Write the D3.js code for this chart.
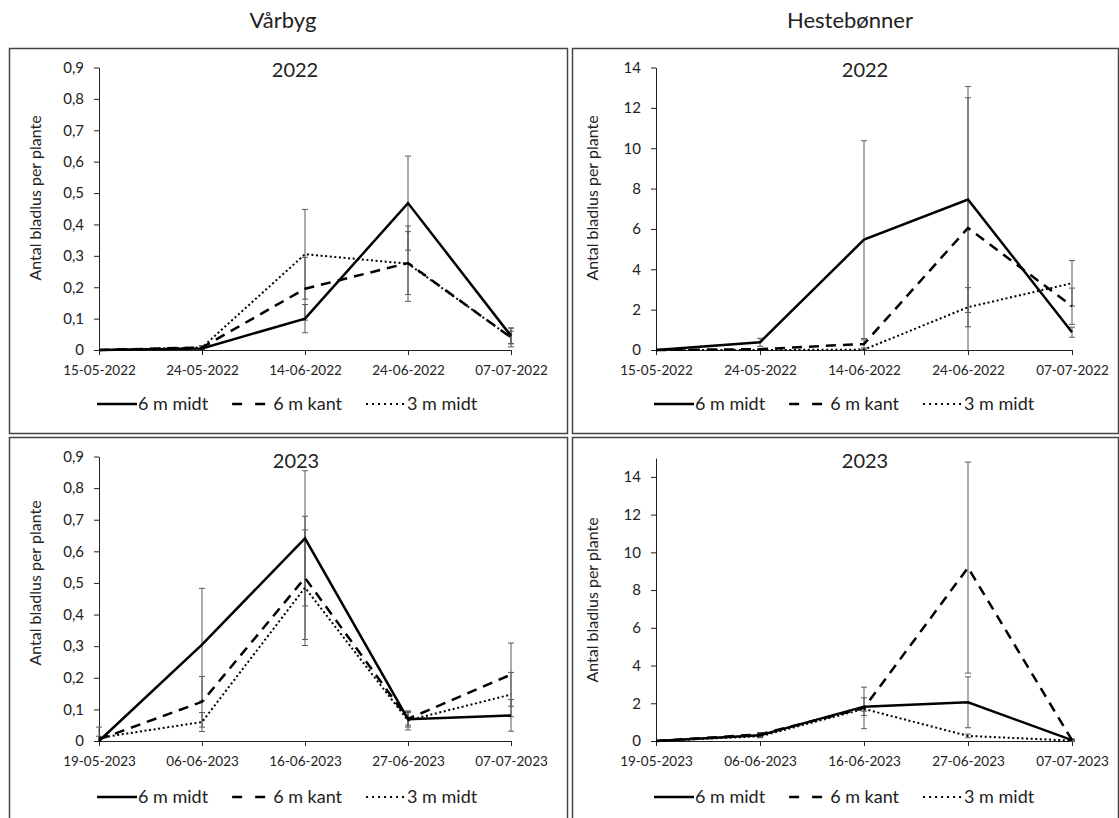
<!DOCTYPE html>
<html lang="da">
<head>
<meta charset="utf-8">
<script src="https://d3js.org/d3.v7.min.js"></script>
<style>
  body { margin: 0; background: #fff; }
  svg text { font-family: Lato, "Open Sans", sans-serif; fill: #222; }
</style>
</head>
<body>
<svg id="chart" width="1119" height="818"></svg>
<script>
// dates on the category axis
var dates2022 = ["15-05-2022", "24-05-2022", "14-06-2022", "24-06-2022", "07-07-2022"];
var dates2023 = ["19-05-2023", "06-06-2023", "16-06-2023", "27-06-2023", "07-07-2023"];
var seriesNames = ["6 m midt", "6 m kant", "3 m midt"];

// means per series (6 m midt, 6 m kant, 3 m midt) and +/- error
var byg2022 = [
  [0, 0.005, 0.10, 0.468, 0.045],
  [0, 0.008, 0.195, 0.277, 0.04],
  [0, 0.008, 0.305, 0.275, 0.04]
];
var byg2022Err = [
  [0, 0.008, 0.045, 0.15, 0.025],
  [0, 0.006, 0.10, 0.10, 0.02],
  [0, 0.005, 0.143, 0.12, 0.03]
];
var bonne2022 = [
  [0, 0.38, 5.47, 7.46, 0.88],
  [0, 0.04, 0.30, 6.05, 2.17],
  [0, 0, 0.02, 2.12, 3.31]
];
var bonne2022Err = [
  [0, 0.2, 4.9, 5.6, 0.25],
  [0, 0.02, 0.2, 6.45, 0.9],
  [0, 0, 0.02, 0.97, 1.13]
];
var byg2023 = [
  [0, 0.305, 0.641, 0.069, 0.081],
  [0.005, 0.124, 0.516, 0.07, 0.21],
  [0.01, 0.06, 0.485, 0.065, 0.147]
];
var byg2023Err = [
  [0, 0.178, 0.214, 0.025, 0.05],
  [0.01, 0.08, 0.195, 0.02, 0.10],
  [0.034, 0.03, 0.183, 0.03, 0.07]
];
var bonne2023 = [
  [0, 0.30, 1.82, 2.05, 0.05],
  [0, 0.35, 1.75, 9.19, 0.05],
  [0, 0.25, 1.70, 0.27, 0.02]
];
var bonne2023Err = [
  [0, 0.1, 0.47, 1.35, 0.05],
  [0, 0.1, 1.1, 5.59, 0.05],
  [0, 0.08, 0.12, 0.1, 0.02]
];

var bygTicks = [0, 0.1, 0.2, 0.3, 0.4, 0.5, 0.6, 0.7, 0.8, 0.9];
var bonneTicks = [0, 2, 4, 6, 8, 10, 12, 14];

var lineDash = [null, "10,7", "2,2.6"];
var legendDash = [null, "10,13", "2,4"];
var lineWidth = [2.5, 2.5, 2];

var svg = d3.select("#chart");

// column headers
svg.append("text").attr("x", 283).attr("y", 28).attr("text-anchor", "middle")
  .style("font-size", "22px").text("Vårbyg");
svg.append("text").attr("x", 850).attr("y", 28).attr("text-anchor", "middle")
  .style("font-size", "22px").text("Hestebønner");

var panels = [
  {box: [9, 48, 558, 385], x0: 99, x1: 511, y0: 350, y1: 67.5, yMax: 0.9, ticks: bygTicks,
   dates: dates2022, mean: byg2022, err: byg2022Err, year: "2022", titleX: 295, titleY: 77, labelY: 198, legendY: 404},
  {box: [572, 48, 546, 385], x0: 656, x1: 1072, y0: 350, y1: 67.5, yMax: 14, ticks: bonneTicks,
   dates: dates2022, mean: bonne2022, err: bonne2022Err, year: "2022", titleX: 865, titleY: 77, labelY: 198, legendY: 404},
  {box: [9, 437, 558, 390], x0: 99, x1: 511, y0: 741, y1: 456.5, yMax: 0.9, ticks: bygTicks,
   dates: dates2023, mean: byg2023, err: byg2023Err, year: "2023", titleX: 296, titleY: 468, labelY: 583, legendY: 797},
  {box: [572, 437, 546, 390], x0: 656, x1: 1072, y0: 741, y1: 458, yMax: 15, ticks: bonneTicks,
   dates: dates2023, mean: bonne2023, err: bonne2023Err, year: "2023", titleX: 865, titleY: 468, labelY: 600, legendY: 797}
];

function fmt(d) {
  return d === 0 ? "0" : String(+d.toFixed(1)).replace(".", ",");
}

panels.forEach(function(p) {
  var g = svg.append("g");

  g.append("rect")
    .attr("x", p.box[0] + 0.5).attr("y", p.box[1] + 0.5)
    .attr("width", p.box[2]).attr("height", p.box[3])
    .attr("fill", "none").attr("stroke", "#444").attr("stroke-width", 1.5);

  var x = d3.scalePoint().domain(p.dates).range([p.x0, p.x1]);
  var y = d3.scaleLinear().domain([0, p.yMax]).range([p.y0, p.y1]);

  // axes
  g.append("g")
    .attr("transform", "translate(" + p.x0 + ",0)")
    .call(d3.axisLeft(y).tickValues(p.ticks).tickFormat(fmt).tickSize(5).tickSizeOuter(0).tickPadding(10))
    .attr("font-family", null).attr("font-size", null).attr("color", "#222")
    .selectAll("text").style("font-size", "15px");

  g.append("g")
    .attr("transform", "translate(0," + p.y0 + ")")
    .call(d3.axisBottom(x).tickSize(5).tickSizeOuter(0).tickPadding(10))
    .attr("font-family", null).attr("font-size", null).attr("color", "#222")
    .selectAll("text").style("font-size", "13.5px");

  // axis title
  g.append("text")
    .attr("transform", "translate(" + (p.x0 - 64) + "," + p.labelY + ") rotate(-90)")
    .attr("text-anchor", "middle").attr("dy", "0.35em")
    .style("font-size", "16px")
    .text("Antal bladlus per plante");

  g.append("text")
    .attr("x", p.titleX).attr("y", p.titleY).attr("text-anchor", "middle")
    .style("font-size", "20px").text(p.year);

  // error bars
  p.mean.forEach(function(vals, k) {
    vals.forEach(function(m, i) {
      var e = p.err[k][i];
      if (!e) return;
      var lo = Math.max(0, m - e), hi = Math.min(p.yMax, m + e);
      var cx = x(p.dates[i]);
      g.append("line").attr("x1", cx).attr("x2", cx).attr("y1", y(lo)).attr("y2", y(hi))
        .attr("stroke", "#595959").attr("stroke-width", 1);
      if (m + e <= p.yMax)
        g.append("line").attr("x1", cx - 3).attr("x2", cx + 3).attr("y1", y(hi)).attr("y2", y(hi))
          .attr("stroke", "#595959").attr("stroke-width", 1);
      if (m - e >= 0)
        g.append("line").attr("x1", cx - 3).attr("x2", cx + 3).attr("y1", y(lo)).attr("y2", y(lo))
          .attr("stroke", "#595959").attr("stroke-width", 1);
    });
  });

  // series lines
  var line = d3.line()
    .x(function(d, i) { return x(p.dates[i]); })
    .y(function(d) { return y(d); });

  p.mean.forEach(function(vals, k) {
    g.append("path")
      .attr("d", line(vals))
      .attr("fill", "none")
      .attr("stroke", "#000")
      .attr("stroke-width", lineWidth[k])
      .attr("stroke-dasharray", lineDash[k])
      .attr("stroke-linejoin", "miter");
  });

  // legend
  var lg = g.append("g").attr("transform", "translate(" + (p.x0 - 2) + "," + p.legendY + ")");
  var pos = 0;
  seriesNames.forEach(function(name, k) {
    lg.append("line").attr("x1", pos).attr("x2", pos + 40).attr("y1", 0).attr("y2", 0)
      .attr("stroke", "#000").attr("stroke-width", lineWidth[k])
      .attr("stroke-dasharray", legendDash[k]);
    var t = lg.append("text").attr("x", pos + 41).attr("dy", "0.35em")
      .style("font-size", "18px").text(name);
    pos += 41 + t.node().getComputedTextLength() + 24;
  });
});
</script>
</body>
</html>
